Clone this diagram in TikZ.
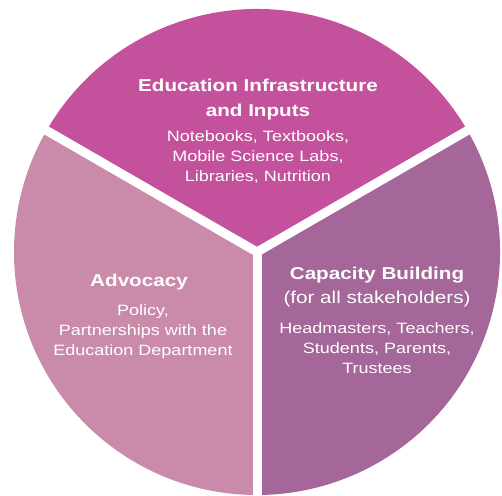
\documentclass[tikz,border=0pt]{standalone}
\usepackage{fontspec}
\setmainfont{Liberation Sans}[FakeStretch=1.2]
\definecolor{inputs}{RGB}{196,81,155}
\definecolor{advocacy}{RGB}{201,139,169}
\definecolor{capacity}{RGB}{165,102,153}
\tikzset{
  headtext/.style={text=white, align=center, font=\bfseries\fontsize{17.2}{24.5}\selectfont},
  bodytext/.style={text=white, align=center, font=\fontsize{15}{20}\selectfont}
}
\begin{document}
\begin{tikzpicture}[x=1pt,y=1pt,yscale=-1,xscale=1]
\useasboundingbox (0,0) rectangle (502,495);
\coordinate (c) at (257,252);

%Shape: Pie top
\fill [inputs] (c) -- ++(210:243) arc [start angle=210, end angle=330, radius=243] -- cycle;
%Shape: Pie right
\fill [capacity] (c) -- ++(330:243) arc [start angle=330, end angle=450, radius=243] -- cycle;
%Shape: Pie left
\fill [advocacy] (c) -- ++(90:243) arc [start angle=90, end angle=210, radius=243] -- cycle;

%Straight Lines
\draw [white, line width=9] (c) -- ++(210:250);
\draw [white, line width=9] (c) -- ++(330:250);
\draw [white, line width=9] (c) -- ++(90:250);

% Text Node
\node (inputshead) [headtext] at (258,99.5) {Education Infrastructure\\and Inputs};
% Text Node
\node (inputsbody) [bodytext] at (258,157) {Notebooks, Textbooks,\\Mobile Science Labs,\\Libraries, Nutrition};
% Text Node
\node (advocacyhead) [headtext] at (139,282) {Advocacy};
% Text Node
\node (advocacybody) [bodytext] at (143,332) {Policy,\\Partnerships with the\\Education Department};
% Text Node
\node (capacityhead) [headtext] at (377,287) {Capacity Building\\\mdseries(for all stakeholders)};
% Text Node
\node (capacitybody) [bodytext] at (377,348) {Headmasters, Teachers,\\Students, Parents,\\Trustees};

\end{tikzpicture}
\end{document}
